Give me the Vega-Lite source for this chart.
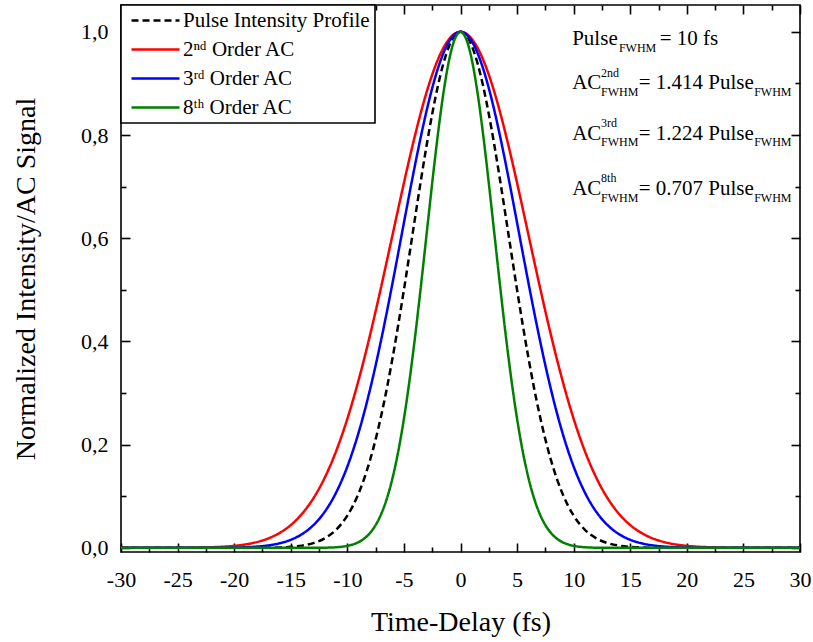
{
  "$schema": "https://vega.github.io/schema/vega-lite/v6.json",
  "width": 679,
  "height": 547,
  "autosize": "none",
  "padding": {"left": 121, "top": 5, "right": 13, "bottom": 90},
  "background": "white",
  "config": {
    "font": "Liberation Serif",
    "view": {"stroke": "black", "strokeWidth": 1.6},
    "axis": {
      "labelFont": "Liberation Serif", "titleFont": "Liberation Serif",
      "labelColor": "black", "titleColor": "black", "tickColor": "black",
      "tickWidth": 1.6, "grid": false, "domain": false,
      "labelFontSize": 22, "titleFontSize": 28, "titleFontWeight": "normal"
    },
    "legend": {
      "orient": "top-left", "offset": 0, "strokeColor": "black", "strokeWidth": 1.6,
      "fillColor": "white", "padding": 5, "rowPadding": 7, "labelLimit": 300,
      "labelFont": "Liberation Serif", "labelFontSize": 21, "labelColor": "black",
      "symbolType": "M-4.8,0L4.8,0", "symbolSize": 100, "symbolStrokeWidth": 2.5,
      "symbolOffset": 19, "labelOffset": 17
    }
  },
  "data": {"values": [{}]},
  "datasets": {
    "curves": [
      {"t":-30,"s":"P","v":0},{"t":-20,"s":"P","v":0.00002},{"t":-18,"s":"P","v":0.00012},{"t":-17,"s":"P","v":0.00033},{"t":-16,"s":"P","v":0.00083},{"t":-15,"s":"P","v":0.00195},{"t":-14,"s":"P","v":0.00436},{"t":-13,"s":"P","v":0.00922},{"t":-12,"s":"P","v":0.01845},{"t":-11,"s":"P","v":0.03492},{"t":-10,"s":"P","v":0.0625},{"t":-9.5,"s":"P","v":0.08188},{"t":-9,"s":"P","v":0.10584},{"t":-8.5,"s":"P","v":0.1349},{"t":-8,"s":"P","v":0.16957},{"t":-7.5,"s":"P","v":0.21022},{"t":-7,"s":"P","v":0.25703},{"t":-6.5,"s":"P","v":0.30993},{"t":-6,"s":"P","v":0.36857},{"t":-5.5,"s":"P","v":0.43227},{"t":-5,"s":"P","v":0.5},{"t":-4.5,"s":"P","v":0.57038},{"t":-4,"s":"P","v":0.64171},{"t":-3.5,"s":"P","v":0.71204},{"t":-3,"s":"P","v":0.77916},{"t":-2.5,"s":"P","v":0.8409},{"t":-2,"s":"P","v":0.89503},{"t":-1.5,"s":"P","v":0.93952},{"t":-1,"s":"P","v":0.97265},{"t":-0.5,"s":"P","v":0.99309},{"t":0,"s":"P","v":1},
      {"t":0.5,"s":"P","v":0.99309},{"t":1,"s":"P","v":0.97265},{"t":1.5,"s":"P","v":0.93952},{"t":2,"s":"P","v":0.89503},{"t":2.5,"s":"P","v":0.8409},{"t":3,"s":"P","v":0.77916},{"t":3.5,"s":"P","v":0.71204},{"t":4,"s":"P","v":0.64171},{"t":4.5,"s":"P","v":0.57038},{"t":5,"s":"P","v":0.5},{"t":5.5,"s":"P","v":0.43227},{"t":6,"s":"P","v":0.36857},{"t":6.5,"s":"P","v":0.30993},{"t":7,"s":"P","v":0.25703},{"t":7.5,"s":"P","v":0.21022},{"t":8,"s":"P","v":0.16957},{"t":8.5,"s":"P","v":0.1349},{"t":9,"s":"P","v":0.10584},{"t":9.5,"s":"P","v":0.08188},{"t":10,"s":"P","v":0.0625},{"t":11,"s":"P","v":0.03492},{"t":12,"s":"P","v":0.01845},{"t":13,"s":"P","v":0.00922},{"t":14,"s":"P","v":0.00436},{"t":15,"s":"P","v":0.00195},{"t":16,"s":"P","v":0.00083},{"t":17,"s":"P","v":0.00033},{"t":18,"s":"P","v":0.00012},{"t":20,"s":"P","v":0.00002},{"t":30,"s":"P","v":0},

      {"t":-30,"s":"2","v":0},{"t":-28,"s":"2","v":0.00002},{"t":-26,"s":"2","v":0.00008},{"t":-25,"s":"2","v":0.00017},{"t":-24,"s":"2","v":0.00034},{"t":-23,"s":"2","v":0.00065},{"t":-22,"s":"2","v":0.00122},{"t":-21,"s":"2","v":0.00221},{"t":-20,"s":"2","v":0.00391},{"t":-19,"s":"2","v":0.00671},{"t":-18,"s":"2","v":0.01121},{"t":-17,"s":"2","v":0.0182},{"t":-16,"s":"2","v":0.02875},{"t":-15,"s":"2","v":0.04419},{"t":-14,"s":"2","v":0.06606},{"t":-13,"s":"2","v":0.09606},{"t":-12,"s":"2","v":0.13583},{"t":-11,"s":"2","v":0.18686},{"t":-10,"s":"2","v":0.25},{"t":-9.5,"s":"2","v":0.28617},{"t":-9,"s":"2","v":0.32533},{"t":-8.5,"s":"2","v":0.36729},{"t":-8,"s":"2","v":0.41178},{"t":-7.5,"s":"2","v":0.4585},{"t":-7,"s":"2","v":0.50697},{"t":-6.5,"s":"2","v":0.55672},{"t":-6,"s":"2","v":0.6071},{"t":-5.5,"s":"2","v":0.65748},{"t":-5,"s":"2","v":0.70711},{"t":-4.5,"s":"2","v":0.75524},{"t":-4,"s":"2","v":0.80107},{"t":-3.5,"s":"2","v":0.84382},{"t":-3,"s":"2","v":0.8827},{"t":-2.5,"s":"2","v":0.917},{"t":-2,"s":"2","v":0.94606},{"t":-1.5,"s":"2","v":0.96929},{"t":-1,"s":"2","v":0.98623},{"t":-0.5,"s":"2","v":0.99654},{"t":0,"s":"2","v":1},
      {"t":0.5,"s":"2","v":0.99654},{"t":1,"s":"2","v":0.98623},{"t":1.5,"s":"2","v":0.96929},{"t":2,"s":"2","v":0.94606},{"t":2.5,"s":"2","v":0.917},{"t":3,"s":"2","v":0.8827},{"t":3.5,"s":"2","v":0.84382},{"t":4,"s":"2","v":0.80107},{"t":4.5,"s":"2","v":0.75524},{"t":5,"s":"2","v":0.70711},{"t":5.5,"s":"2","v":0.65748},{"t":6,"s":"2","v":0.6071},{"t":6.5,"s":"2","v":0.55672},{"t":7,"s":"2","v":0.50697},{"t":7.5,"s":"2","v":0.4585},{"t":8,"s":"2","v":0.41178},{"t":8.5,"s":"2","v":0.36729},{"t":9,"s":"2","v":0.32533},{"t":9.5,"s":"2","v":0.28617},{"t":10,"s":"2","v":0.25},{"t":11,"s":"2","v":0.18686},{"t":12,"s":"2","v":0.13583},{"t":13,"s":"2","v":0.09606},{"t":14,"s":"2","v":0.06606},{"t":15,"s":"2","v":0.04419},{"t":16,"s":"2","v":0.02875},{"t":17,"s":"2","v":0.0182},{"t":18,"s":"2","v":0.01121},{"t":19,"s":"2","v":0.00671},{"t":20,"s":"2","v":0.00391},{"t":21,"s":"2","v":0.00221},{"t":22,"s":"2","v":0.00122},{"t":23,"s":"2","v":0.00065},{"t":24,"s":"2","v":0.00034},{"t":25,"s":"2","v":0.00017},{"t":26,"s":"2","v":0.00008},{"t":28,"s":"2","v":0.00002},{"t":30,"s":"2","v":0},

      {"t":-30,"s":"3","v":0},{"t":-24,"s":"3","v":0.00002},{"t":-22,"s":"3","v":0.00013},{"t":-21,"s":"3","v":0.00029},{"t":-20,"s":"3","v":0.00062},{"t":-19,"s":"3","v":0.00126},{"t":-18,"s":"3","v":0.00251},{"t":-17,"s":"3","v":0.00479},{"t":-16,"s":"3","v":0.00881},{"t":-15,"s":"3","v":0.01563},{"t":-14,"s":"3","v":0.0267},{"t":-13,"s":"3","v":0.04398},{"t":-12,"s":"3","v":0.06983},{"t":-11,"s":"3","v":0.10681},{"t":-10,"s":"3","v":0.15749},{"t":-9.5,"s":"3","v":0.1886},{"t":-9,"s":"3","v":0.22374},{"t":-8.5,"s":"3","v":0.26304},{"t":-8,"s":"3","v":0.30638},{"t":-7.5,"s":"3","v":0.35355},{"t":-7,"s":"3","v":0.40424},{"t":-6.5,"s":"3","v":0.45798},{"t":-6,"s":"3","v":0.51406},{"t":-5.5,"s":"3","v":0.57169},{"t":-5,"s":"3","v":0.62996},{"t":-4.5,"s":"3","v":0.68778},{"t":-4,"s":"3","v":0.74396},{"t":-3.5,"s":"3","v":0.79738},{"t":-3,"s":"3","v":0.84675},{"t":-2.5,"s":"3","v":0.8909},{"t":-2,"s":"3","v":0.92873},{"t":-1.5,"s":"3","v":0.95926},{"t":-1,"s":"3","v":0.98169},{"t":-0.5,"s":"3","v":0.99539},{"t":0,"s":"3","v":1},
      {"t":0.5,"s":"3","v":0.99539},{"t":1,"s":"3","v":0.98169},{"t":1.5,"s":"3","v":0.95926},{"t":2,"s":"3","v":0.92873},{"t":2.5,"s":"3","v":0.8909},{"t":3,"s":"3","v":0.84675},{"t":3.5,"s":"3","v":0.79738},{"t":4,"s":"3","v":0.74396},{"t":4.5,"s":"3","v":0.68778},{"t":5,"s":"3","v":0.62996},{"t":5.5,"s":"3","v":0.57169},{"t":6,"s":"3","v":0.51406},{"t":6.5,"s":"3","v":0.45798},{"t":7,"s":"3","v":0.40424},{"t":7.5,"s":"3","v":0.35355},{"t":8,"s":"3","v":0.30638},{"t":8.5,"s":"3","v":0.26304},{"t":9,"s":"3","v":0.22374},{"t":9.5,"s":"3","v":0.1886},{"t":10,"s":"3","v":0.15749},{"t":11,"s":"3","v":0.10681},{"t":12,"s":"3","v":0.06983},{"t":13,"s":"3","v":0.04398},{"t":14,"s":"3","v":0.0267},{"t":15,"s":"3","v":0.01563},{"t":16,"s":"3","v":0.00881},{"t":17,"s":"3","v":0.00479},{"t":18,"s":"3","v":0.00251},{"t":19,"s":"3","v":0.00126},{"t":20,"s":"3","v":0.00062},{"t":21,"s":"3","v":0.00029},{"t":22,"s":"3","v":0.00013},{"t":24,"s":"3","v":0.00002},{"t":30,"s":"3","v":0},

      {"t":-30,"s":"8","v":0},{"t":-14,"s":"8","v":0.00002},{"t":-13,"s":"8","v":0.00008},{"t":-12,"s":"8","v":0.00034},{"t":-11,"s":"8","v":0.00122},{"t":-10,"s":"8","v":0.00391},{"t":-9.5,"s":"8","v":0.00671},{"t":-9,"s":"8","v":0.01121},{"t":-8.5,"s":"8","v":0.0182},{"t":-8,"s":"8","v":0.02875},{"t":-7.5,"s":"8","v":0.04419},{"t":-7,"s":"8","v":0.06606},{"t":-6.5,"s":"8","v":0.09606},{"t":-6,"s":"8","v":0.13583},{"t":-5.5,"s":"8","v":0.18686},{"t":-5,"s":"8","v":0.25},{"t":-4.5,"s":"8","v":0.32533},{"t":-4,"s":"8","v":0.41178},{"t":-3.5,"s":"8","v":0.50697},{"t":-3,"s":"8","v":0.6071},{"t":-2.5,"s":"8","v":0.70711},{"t":-2,"s":"8","v":0.80107},{"t":-1.5,"s":"8","v":0.8827},{"t":-1,"s":"8","v":0.94606},{"t":-0.5,"s":"8","v":0.98623},{"t":0,"s":"8","v":1},
      {"t":0.5,"s":"8","v":0.98623},{"t":1,"s":"8","v":0.94606},{"t":1.5,"s":"8","v":0.8827},{"t":2,"s":"8","v":0.80107},{"t":2.5,"s":"8","v":0.70711},{"t":3,"s":"8","v":0.6071},{"t":3.5,"s":"8","v":0.50697},{"t":4,"s":"8","v":0.41178},{"t":4.5,"s":"8","v":0.32533},{"t":5,"s":"8","v":0.25},{"t":5.5,"s":"8","v":0.18686},{"t":6,"s":"8","v":0.13583},{"t":6.5,"s":"8","v":0.09606},{"t":7,"s":"8","v":0.06606},{"t":7.5,"s":"8","v":0.04419},{"t":8,"s":"8","v":0.02875},{"t":8.5,"s":"8","v":0.0182},{"t":9,"s":"8","v":0.01121},{"t":9.5,"s":"8","v":0.00671},{"t":10,"s":"8","v":0.00391},{"t":11,"s":"8","v":0.00122},{"t":12,"s":"8","v":0.00034},{"t":13,"s":"8","v":0.00008},{"t":14,"s":"8","v":0.00002},{"t":30,"s":"8","v":0}
    ]
  },
  "resolve": {"axis": {"x": "independent", "y": "independent"}},
  "layer": [
    {
      "data": {"name": "curves"},
      "mark": {"type": "line", "strokeWidth": 2.5, "interpolate": "monotone"},
      "encoding": {
        "x": {
          "field": "t", "type": "quantitative",
          "scale": {"domain": [-30, 30], "nice": false, "zero": false},
          "axis": {
            "orient": "bottom", "title": "Time-Delay (fs)",
            "values": [-30,-25,-20,-15,-10,-5,0,5,10,15,20,25,30],
            "labelExpr": "'' + datum.value",
            "tickSize": 9, "offset": -9,
            "labelPadding": 17, "titlePadding": 18, "labelFlush": false, "labelOverlap": false
          }
        },
        "y": {
          "field": "v", "type": "quantitative",
          "scale": {"domain": [-0.008, 1.052], "nice": false, "zero": false},
          "axis": {
            "orient": "left", "title": "Normalized Intensity/AC Signal",
            "values": [0,0.2,0.4,0.6,0.8,1],
            "labelExpr": "replace(format(datum.value, '.1f'), '.', ',')",
            "tickSize": 9, "offset": -9,
            "labelPadding": 13, "titlePadding": 40, "labelFlush": false, "labelOverlap": false
          }
        },
        "color": {
          "field": "s", "type": "nominal",
          "scale": {"domain": ["P", "2", "3", "8"], "range": ["#000000", "#ff0000", "#0000ff", "#008000"]},
          "legend": {
            "title": null,
            "labelExpr": "datum.label === 'P' ? 'Pulse Intensity Profile' : datum.label === '2' ? '2ⁿᵈ Order AC' : datum.label === '3' ? '3ʳᵈ Order AC' : '8ᵗʰ Order AC'"
          }
        },
        "strokeDash": {
          "field": "s", "type": "nominal",
          "scale": {"domain": ["P", "2", "3", "8"], "range": [[7, 4], [1, 0], [1, 0], [1, 0]]},
          "legend": {
            "title": null,
            "labelExpr": "datum.label === 'P' ? 'Pulse Intensity Profile' : datum.label === '2' ? '2ⁿᵈ Order AC' : datum.label === '3' ? '3ʳᵈ Order AC' : '8ᵗʰ Order AC'"
          }
        }
      }
    },
    {
      "data": {"name": "curves"},
      "mark": {"type": "line", "opacity": 0},
      "encoding": {
        "x": {"field": "t", "type": "quantitative",
          "axis": {"orient": "top", "title": null, "labels": false, "values": [-30,-25,-20,-15,-10,-5,0,5,10,15,20,25,30], "tickSize": 9, "offset": -9}},
        "y": {"field": "v", "type": "quantitative",
          "axis": {"orient": "right", "title": null, "labels": false, "values": [0,0.2,0.4,0.6,0.8,1], "tickSize": 9, "offset": -9}}
      }
    },
    {
      "data": {"name": "curves"},
      "mark": {"type": "line", "opacity": 0},
      "encoding": {
        "x": {"field": "t", "type": "quantitative",
          "axis": {"orient": "bottom", "title": null, "labels": false, "values": [-27.5,-22.5,-17.5,-12.5,-7.5,-2.5,2.5,7.5,12.5,17.5,22.5,27.5], "tickSize": 5, "offset": -5}},
        "y": {"field": "v", "type": "quantitative",
          "axis": {"orient": "left", "title": null, "labels": false, "values": [0.1,0.3,0.5,0.7,0.9], "tickSize": 5, "offset": -5}}
      }
    },
    {
      "data": {"name": "curves"},
      "mark": {"type": "line", "opacity": 0},
      "encoding": {
        "x": {"field": "t", "type": "quantitative",
          "axis": {"orient": "top", "title": null, "labels": false, "values": [-27.5,-22.5,-17.5,-12.5,-7.5,-2.5,2.5,7.5,12.5,17.5,22.5,27.5], "tickSize": 5, "offset": -5}},
        "y": {"field": "v", "type": "quantitative",
          "axis": {"orient": "right", "title": null, "labels": false, "values": [0.1,0.3,0.5,0.7,0.9], "tickSize": 5, "offset": -5}}
      }
    },
    {"mark": {"type": "text", "text": "Pulse", "align": "left", "baseline": "alphabetic", "fontSize": 21, "font": "Liberation Serif", "color": "black"},
     "encoding": {"x": {"datum": 9.87, "type": "quantitative", "axis": null}, "y": {"datum": 0.975, "type": "quantitative", "axis": null}}},
    {"mark": {"type": "text", "text": "FWHM", "align": "left", "baseline": "alphabetic", "fontSize": 12, "font": "Liberation Serif", "color": "black"},
     "encoding": {"x": {"datum": 14.0, "type": "quantitative", "axis": null}, "y": {"datum": 0.96, "type": "quantitative", "axis": null}}},
    {"mark": {"type": "text", "text": "= 10 fs", "align": "left", "baseline": "alphabetic", "fontSize": 21, "font": "Liberation Serif", "color": "black"},
     "encoding": {"x": {"datum": 17.6, "type": "quantitative", "axis": null}, "y": {"datum": 0.975, "type": "quantitative", "axis": null}}},

    {"mark": {"type": "text", "text": "AC", "align": "left", "baseline": "alphabetic", "fontSize": 21, "font": "Liberation Serif", "color": "black"},
     "encoding": {"x": {"datum": 9.87, "type": "quantitative", "axis": null}, "y": {"datum": 0.889, "type": "quantitative", "axis": null}}},
    {"mark": {"type": "text", "text": "2nd", "align": "left", "baseline": "alphabetic", "fontSize": 12, "font": "Liberation Serif", "color": "black"},
     "encoding": {"x": {"datum": 12.42, "type": "quantitative", "axis": null}, "y": {"datum": 0.913, "type": "quantitative", "axis": null}}},
    {"mark": {"type": "text", "text": "FWHM", "align": "left", "baseline": "alphabetic", "fontSize": 12, "font": "Liberation Serif", "color": "black"},
     "encoding": {"x": {"datum": 12.42, "type": "quantitative", "axis": null}, "y": {"datum": 0.876, "type": "quantitative", "axis": null}}},
    {"mark": {"type": "text", "text": "= 1.414 Pulse", "align": "left", "baseline": "alphabetic", "fontSize": 21, "font": "Liberation Serif", "color": "black"},
     "encoding": {"x": {"datum": 15.75, "type": "quantitative", "axis": null}, "y": {"datum": 0.889, "type": "quantitative", "axis": null}}},
    {"mark": {"type": "text", "text": "FWHM", "align": "left", "baseline": "alphabetic", "fontSize": 12, "font": "Liberation Serif", "color": "black"},
     "encoding": {"x": {"datum": 25.95, "type": "quantitative", "axis": null}, "y": {"datum": 0.876, "type": "quantitative", "axis": null}}},

    {"mark": {"type": "text", "text": "AC", "align": "left", "baseline": "alphabetic", "fontSize": 21, "font": "Liberation Serif", "color": "black"},
     "encoding": {"x": {"datum": 9.87, "type": "quantitative", "axis": null}, "y": {"datum": 0.791, "type": "quantitative", "axis": null}}},
    {"mark": {"type": "text", "text": "3rd", "align": "left", "baseline": "alphabetic", "fontSize": 12, "font": "Liberation Serif", "color": "black"},
     "encoding": {"x": {"datum": 12.42, "type": "quantitative", "axis": null}, "y": {"datum": 0.815, "type": "quantitative", "axis": null}}},
    {"mark": {"type": "text", "text": "FWHM", "align": "left", "baseline": "alphabetic", "fontSize": 12, "font": "Liberation Serif", "color": "black"},
     "encoding": {"x": {"datum": 12.42, "type": "quantitative", "axis": null}, "y": {"datum": 0.778, "type": "quantitative", "axis": null}}},
    {"mark": {"type": "text", "text": "= 1.224 Pulse", "align": "left", "baseline": "alphabetic", "fontSize": 21, "font": "Liberation Serif", "color": "black"},
     "encoding": {"x": {"datum": 15.75, "type": "quantitative", "axis": null}, "y": {"datum": 0.791, "type": "quantitative", "axis": null}}},
    {"mark": {"type": "text", "text": "FWHM", "align": "left", "baseline": "alphabetic", "fontSize": 12, "font": "Liberation Serif", "color": "black"},
     "encoding": {"x": {"datum": 25.95, "type": "quantitative", "axis": null}, "y": {"datum": 0.778, "type": "quantitative", "axis": null}}},

    {"mark": {"type": "text", "text": "AC", "align": "left", "baseline": "alphabetic", "fontSize": 21, "font": "Liberation Serif", "color": "black"},
     "encoding": {"x": {"datum": 9.87, "type": "quantitative", "axis": null}, "y": {"datum": 0.684, "type": "quantitative", "axis": null}}},
    {"mark": {"type": "text", "text": "8th", "align": "left", "baseline": "alphabetic", "fontSize": 12, "font": "Liberation Serif", "color": "black"},
     "encoding": {"x": {"datum": 12.42, "type": "quantitative", "axis": null}, "y": {"datum": 0.709, "type": "quantitative", "axis": null}}},
    {"mark": {"type": "text", "text": "FWHM", "align": "left", "baseline": "alphabetic", "fontSize": 12, "font": "Liberation Serif", "color": "black"},
     "encoding": {"x": {"datum": 12.42, "type": "quantitative", "axis": null}, "y": {"datum": 0.671, "type": "quantitative", "axis": null}}},
    {"mark": {"type": "text", "text": "= 0.707 Pulse", "align": "left", "baseline": "alphabetic", "fontSize": 21, "font": "Liberation Serif", "color": "black"},
     "encoding": {"x": {"datum": 15.75, "type": "quantitative", "axis": null}, "y": {"datum": 0.684, "type": "quantitative", "axis": null}}},
    {"mark": {"type": "text", "text": "FWHM", "align": "left", "baseline": "alphabetic", "fontSize": 12, "font": "Liberation Serif", "color": "black"},
     "encoding": {"x": {"datum": 25.95, "type": "quantitative", "axis": null}, "y": {"datum": 0.671, "type": "quantitative", "axis": null}}}
  ]
}
